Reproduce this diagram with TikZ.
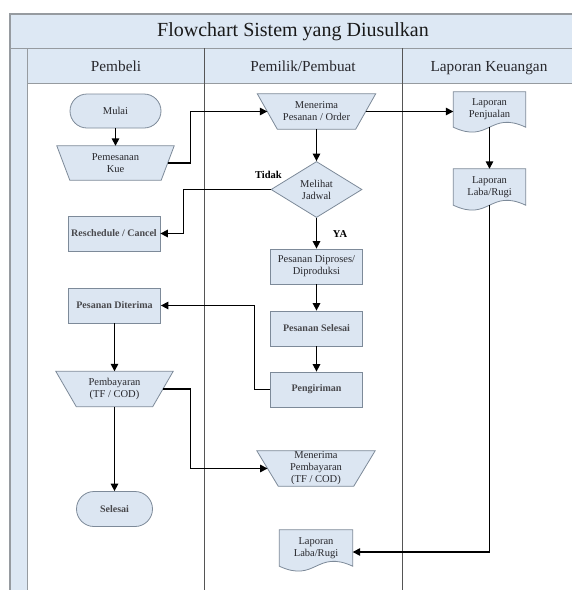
\documentclass[tikz,border=0pt]{standalone}
\usepackage{fontspec}
\setmainfont{Liberation Serif}
\usetikzlibrary{shapes.geometric,shapes.misc,arrows.meta,calc}
\pgfdeclarelayer{bg}
\pgfdeclarelayer{shp}
\pgfsetlayers{bg,shp,main}
\definecolor{fillc}{RGB}{220,230,242}
\definecolor{bandc}{RGB}{221,232,244}
\definecolor{bordc}{RGB}{125,138,153}
\definecolor{framec}{RGB}{150,155,160}
\definecolor{lanec}{RGB}{85,85,85}
\definecolor{txtc}{RGB}{40,40,45}
\newcommand\trapz[2]{%
  \begin{pgfonlayer}{shp}
  \path[shapeline] ([xshift=-#2]#1.north west) -- ([xshift=#2]#1.north east)
     -- ([xshift=-#2]#1.south east) -- ([xshift=#2]#1.south west) -- cycle;
  \end{pgfonlayer}}
\newcommand\docz[1]{%
  \begin{pgfonlayer}{shp}
  \path[shapeline] (#1.south west) -- (#1.north west) -- (#1.north east) -- (#1.south east)
     .. controls ($(#1.south)+(0,-17)$) and ($(#1.south)+(0,17)$) .. (#1.south west) -- cycle;
  \end{pgfonlayer}}
\tikzset{
  shapeline/.style={draw=bordc, fill=fillc, line width=0.8pt},
  nodetext/.style={font=\fontsize{10.5}{12}\selectfont, text=txtc, align=center, inner sep=1pt},
  boldtext/.style={font=\bfseries\fontsize{10}{12}\selectfont, text=txtc!85, align=center, inner sep=1pt},
  box/.style={rectangle, draw=bordc, fill=fillc, line width=0.8pt, minimum width=92pt, minimum height=35pt},
  term/.style={rounded rectangle, draw=bordc, fill=fillc, line width=0.8pt},
  dec/.style={diamond, draw=bordc, fill=fillc, line width=0.8pt, minimum width=91pt, minimum height=52pt, inner sep=0pt},
  plain/.style={rectangle, inner sep=0pt},
  conn/.style={line width=1.5pt, black, -{Triangle[length=7.5pt,width=7.5pt]}},
  lbl/.style={font=\bfseries\fontsize{10.5}{12}\selectfont, text=black},
  header/.style={font=\fontsize{15.3}{18}\selectfont, text=txtc, anchor=base},
}
\begin{document}
\begin{tikzpicture}[x=1pt, y=-1pt]
\useasboundingbox (0,0) rectangle (572,590);
% frame
\begin{pgfonlayer}{bg}
  \fill[white] (0,0) rectangle (572,590);
  \fill[bandc] (10,14) rectangle (580,48);
  \fill[bandc] (10,48) rectangle (27.7,600);
  \fill[bandc] (27.7,48) rectangle (580,83);
  \draw[framec, line width=1.5pt] (10,600) -- (10,14) -- (580,14);
  \draw[framec, line width=1pt] (10,48) -- (580,48);
  \draw[framec, line width=1pt] (27.7,48) -- (27.7,600);
  \draw[framec, line width=1pt] (27.7,83) -- (580,83);
  \draw[lanec, line width=0.9pt] (204,48) -- (204,600);
  \draw[lanec, line width=0.9pt] (402.5,48) -- (402.5,600);
\end{pgfonlayer}
% titles
\node[anchor=base, font=\fontsize{20}{24}\selectfont, text=black!90] (title) at (293,36.7) {Flowchart Sistem yang Diusulkan};
\node[header] (h1) at (116,71.5) {Pembeli};
\node[header] (h2) at (303,71.5) {Pemilik/Pembuat};
\node[header] (h3) at (489,71.5) {Laporan Keuangan};
% Pembeli lane
\node[term, nodetext, minimum width=93pt, minimum height=34pt] (mulai) at (115.5,111) {Mulai};
\node[plain, nodetext, minimum width=104pt, minimum height=34pt] (pesan) at (115.5,163) {Pemesanan\\Kue};
\trapz{pesan}{6.5pt}
\node[box, boldtext] (resch) at (114,233.5) {Reschedule / Cancel};
\node[box, boldtext] (terima) at (114.5,305.5) {Pesanan Diterima};
\node[plain, nodetext, minimum width=96.5pt, minimum height=35pt] (bayar) at (114.5,389) {Pembayaran\\(TF / COD)};
\trapz{bayar}{10.25pt}
\node[term, boldtext, minimum width=78pt, minimum height=35pt] (selesai) at (114.5,509) {Selesai};
% Pemilik lane
\node[plain, nodetext, minimum width=98pt, minimum height=35pt] (mp) at (316.5,111.5) {Menerima\\Pesanan / Order};
\trapz{mp}{10pt}
\node[dec, nodetext] (dj) at (316.5,189.5) {Melihat\\Jadwal};
\node[box, nodetext] (proc) at (316.5,266.5) {Pesanan Diproses/\\Diproduksi};
\node[box, boldtext] (psel) at (316.5,328.5) {Pesanan Selesai};
\node[box, boldtext] (kirim) at (316.5,389.5) {Pengiriman};
\node[plain, nodetext, minimum width=96.5pt, minimum height=34pt] (mbayar) at (316,468.5) {Menerima\\Pembayaran\\(TF / COD)};
\trapz{mbayar}{10.75pt}
\node[plain, nodetext, minimum width=73pt, minimum height=36pt] (llr2) at (316,548) {Laporan\\Laba/Rugi};
\docz{llr2}
% Laporan lane
\node[plain, nodetext, minimum width=72pt, minimum height=35pt] (lp) at (489.5,109.5) {Laporan\\Penjualan};
\docz{lp}
\node[plain, nodetext, minimum width=72pt, minimum height=36pt] (llr) at (489.5,187) {Laporan\\Laba/Rugi};
\docz{llr}
% labels
\node[lbl] (tidak) at (268.5,175) {Tidak};
\node[lbl] (ya) at (340,234) {YA};
% helper coordinates
\coordinate (k1) at (190.5,0);
\coordinate (k2) at (183.5,0);
\coordinate (k3) at (254.5,0);
% connectors
\draw[conn] (mulai.south) -- (pesan.north);
\draw[conn] (pesan.east) -- (pesan.east -| k1) |- (mp.west);
\draw[conn] (mp.east) -- (mp.east -| lp.west);
\draw[conn] (lp.south) -- (llr.north);
\draw[conn] (llr.south) |- ([yshift=-4pt]llr2.east);
\draw[conn] (mp.south) -- (dj.north);
\draw[conn] (dj.west) -- (dj.west -| k2) |- (resch.east);
\draw[conn] (dj.south) -- (proc.north);
\draw[conn] (proc.south) -- (psel.north);
\draw[conn] (psel.south) -- (kirim.north);
\draw[conn] (kirim.west) -- (kirim.west -| k3) |- (terima.east);
\draw[conn] (terima.south) -- (bayar.north);
\draw[conn] (bayar.east) -- (bayar.east -| k1) |- (mbayar.west);
\draw[conn] (bayar.south) -- (selesai.north);
\end{tikzpicture}
\end{document}
